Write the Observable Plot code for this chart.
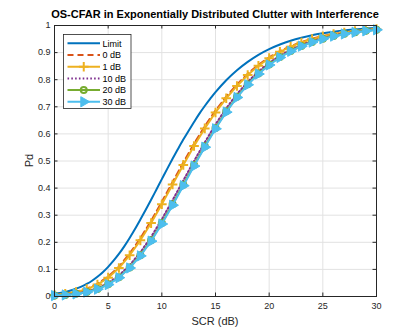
<!DOCTYPE html>
<html>
<head>
<meta charset="utf-8">
<script src="https://cdn.jsdelivr.net/npm/d3@7"></script>
<script src="https://cdn.jsdelivr.net/npm/@observablehq/plot@0.6"></script>
<style>
  html, body { margin: 0; padding: 0; background: #fff; }
  #wrap { position: relative; width: 415px; height: 332px; font-family: "Liberation Sans", Arial, sans-serif; }
  #chart svg { display: block; }
  #overlay { position: absolute; left: 0; top: 0; pointer-events: none; }
</style>
</head>
<body>
<div id="wrap">
  <div id="chart"></div>
  <svg id="overlay" width="415" height="332"></svg>
</div>
<script>
// ---------------- data ----------------
const titleText = "OS-CFAR in Exponentially Distributed Clutter with Interference";
const xLabel = "SCR (dB)";
const yLabel = "Pd";

const xTicks = [0, 5, 10, 15, 20, 25, 30];
const xTickLabels = ["0", "5", "10", "15", "20", "25", "30"];
const yTicks = [0, 0.1, 0.2, 0.3, 0.4, 0.5, 0.6, 0.7, 0.8, 0.9, 1];
const yTickLabels = ["0", "0.1", "0.2", "0.3", "0.4", "0.5", "0.6", "0.7", "0.8", "0.9", "1"];

const seriesNames = ["Limit", "0 dB", "1 dB", "10 dB", "20 dB", "30 dB"];

// Limit curve (SCR in dB, Pd)
const limitScr = [0, 0.5, 1, 1.5, 2, 2.5, 3, 3.5, 4, 4.5, 5, 5.5, 6, 6.5, 7, 7.5, 8, 8.5, 9, 9.5,
  10, 10.5, 11, 11.5, 12, 12.5, 13, 13.5, 14, 14.5, 15, 16, 17, 18, 19, 20, 21, 22, 23, 24, 25, 26, 27, 28, 29, 30];
const limitPd = [0.0100, 0.0130, 0.0170, 0.0220, 0.0284, 0.0363, 0.0462, 0.0582, 0.0726, 0.0896,
  0.1094, 0.132, 0.157, 0.185, 0.216, 0.249, 0.284, 0.320, 0.357, 0.395,
  0.433, 0.471, 0.508, 0.544, 0.579, 0.612, 0.644, 0.675, 0.703, 0.729,
  0.754, 0.798, 0.835, 0.866, 0.892, 0.913, 0.930, 0.944, 0.955, 0.964, 0.971, 0.977, 0.982, 0.9855, 0.9885, 0.9908];

// OS-CFAR curves, one point per dB
const scr = [0, 1, 2, 3, 4, 5, 6, 7, 8, 9, 10, 11, 12, 13, 14, 15, 16, 17, 18, 19, 20, 21, 22, 23, 24, 25, 26, 27, 28, 29, 30];
const pd0 = [0.0060, 0.0101, 0.0171, 0.0286, 0.0466, 0.0731, 0.1101, 0.1584, 0.2148, 0.2793,
  0.3496, 0.4222, 0.4945, 0.5638, 0.6280, 0.6861, 0.7375, 0.7822, 0.8219, 0.8550,
  0.8827, 0.9054, 0.9240, 0.9390, 0.9511, 0.9610, 0.9689, 0.9751, 0.9802, 0.9842, 0.9875];
const pd1 = [0.0056, 0.0095, 0.0161, 0.0270, 0.0441, 0.0695, 0.1052, 0.1521, 0.2073, 0.2709,
  0.3406, 0.4131, 0.4856, 0.5553, 0.6202, 0.6791, 0.7314, 0.7769, 0.8174, 0.8513,
  0.8796, 0.9029, 0.9219, 0.9373, 0.9498, 0.9599, 0.9680, 0.9744, 0.9796, 0.9838, 0.9871];
const pd10 = [0.0038, 0.0063, 0.0108, 0.0182, 0.0304, 0.0493, 0.0771, 0.1155, 0.1629, 0.2198,
  0.2849, 0.3554, 0.4280, 0.5000, 0.5687, 0.6351, 0.6948, 0.7470, 0.7920, 0.8301,
  0.8620, 0.8884, 0.9100, 0.9278, 0.9421, 0.9536, 0.9630, 0.9705, 0.9764, 0.9812, 0.9850];
const pd20 = [0.0034, 0.0058, 0.0097, 0.0165, 0.0276, 0.0451, 0.0710, 0.1073, 0.1525, 0.2074,
  0.2710, 0.3405, 0.4128, 0.4850, 0.5545, 0.6221, 0.6832, 0.7369, 0.7834, 0.8228,
  0.8559, 0.8834, 0.9059, 0.9244, 0.9394, 0.9514, 0.9612, 0.9691, 0.9753, 0.9803, 0.9843];
const pd30 = [0.0034, 0.0056, 0.0095, 0.0161, 0.0270, 0.0441, 0.0695, 0.1052, 0.1499, 0.2043,
  0.2675, 0.3368, 0.4090, 0.4813, 0.5510, 0.6189, 0.6803, 0.7344, 0.7812, 0.8210,
  0.8544, 0.8821, 0.9049, 0.9236, 0.9387, 0.9509, 0.9608, 0.9687, 0.9750, 0.9801, 0.9841];

// ---------------- styles ----------------
const C = {
  blue: "#0072BD", orange: "#D95319", yellow: "#EDB120",
  purple: "#7E2F8E", green: "#77AC30", cyan: "#4DBEEE",
  axis: "#262626", grid: "#e2e2e2"
};
const W = 415, H = 332;
const M = { left: 54, right: 39, top: 25, bottom: 36 };
const plotW = W - M.left - M.right;
const plotH = H - M.top - M.bottom;
const tickLen = 3.5;
const LW = 2;

const chart = Plot.plot({
  width: W,
  height: H,
  marginLeft: M.left,
  marginRight: M.right,
  marginTop: M.top,
  marginBottom: M.bottom,
  style: { fontFamily: "'Liberation Sans', Arial, sans-serif", fontSize: "9px", color: C.axis, background: "#fff" },
  x: { domain: [0, 30] },
  y: { domain: [0, 1] },
  marks: [
    Plot.gridX(xTicks, { stroke: C.grid, strokeOpacity: 1, strokeWidth: 1 }),
    Plot.gridY(yTicks, { stroke: C.grid, strokeOpacity: 1, strokeWidth: 1 }),
    // Limit
    Plot.line(limitScr, { x: limitScr, y: limitPd, stroke: C.blue, strokeWidth: LW, curve: "catmull-rom" }),
    // 0 dB
    Plot.line(scr, { x: scr, y: pd0, stroke: C.orange, strokeWidth: LW, strokeDasharray: "6,4" }),
    // 1 dB
    Plot.line(scr, { x: scr, y: pd1, stroke: C.yellow, strokeWidth: LW }),
    Plot.dot(scr, { x: scr, y: pd1, symbol: "plus", r: 3.2, stroke: C.yellow, strokeWidth: LW, fill: "none" }),
    // 10 dB
    Plot.line(scr, { x: scr, y: pd10, stroke: C.purple, strokeWidth: LW, strokeDasharray: "1.6,2.2" }),
    // 20 dB
    Plot.line(scr, { x: scr, y: pd20, stroke: C.green, strokeWidth: LW }),
    Plot.dot(scr, { x: scr, y: pd20, symbol: "circle", r: 3, stroke: C.green, strokeWidth: LW, fill: "none" }),
    // 30 dB
    Plot.line(scr, { x: scr, y: pd30, stroke: C.cyan, strokeWidth: LW }),
    Plot.dot(scr, { x: scr, y: pd30, symbol: "triangle", rotate: 90, r: 3.8, stroke: C.cyan, strokeWidth: 1, fill: C.cyan }),
    // box
    Plot.frame({ stroke: C.axis, strokeWidth: 1 }),
    // inward ticks on all four sides
    Plot.tickX(xTicks, { x: d => d, stroke: C.axis, insetTop: plotH - tickLen }),
    Plot.tickX(xTicks, { x: d => d, stroke: C.axis, insetBottom: plotH - tickLen }),
    Plot.tickY(yTicks, { y: d => d, stroke: C.axis, insetRight: plotW - tickLen }),
    Plot.tickY(yTicks, { y: d => d, stroke: C.axis, insetLeft: plotW - tickLen }),
    Plot.axisX(xTicks, { tickSize: 0, tickPadding: 6, label: null, fill: C.axis,
      tickFormat: d => xTickLabels[xTicks.indexOf(d)] }),
    Plot.axisY(yTicks, { tickSize: 0, tickPadding: 4, label: null, fill: C.axis,
      tickFormat: d => yTickLabels[yTicks.indexOf(d)] })
  ]
});
document.getElementById("chart").appendChild(chart);

// ---------------- overlay: title, axis labels, legend ----------------
const ov = d3.select("#overlay");
const font = "'Liberation Sans', Arial, sans-serif";
const cx = M.left + plotW / 2;

ov.append("text").attr("x", cx).attr("y", 18)
  .attr("text-anchor", "middle").attr("font-family", font)
  .attr("font-size", 11).attr("font-weight", "bold").attr("fill", "#000")
  .text(titleText);

ov.append("text").attr("x", cx).attr("y", 325)
  .attr("text-anchor", "middle").attr("font-family", font)
  .attr("font-size", 11).attr("fill", C.axis).text(xLabel);

ov.append("text").attr("transform", `translate(32.5,${M.top + plotH / 2}) rotate(-90)`)
  .attr("text-anchor", "middle").attr("font-family", font)
  .attr("font-size", 11).attr("fill", C.axis).text(yLabel);

// legend
const lg = { x: 63.5, y: 34.5, w: 67.5, h: 74, row0: 43.3, dy: 11.7, lx1: 67.5, lx2: 100, tx: 102.5 };
const legendStyles = [
  { stroke: C.blue },
  { stroke: C.orange, dash: "6,4" },
  { stroke: C.yellow, symbol: d3.symbolPlus, r: 3.2, fill: "none", sw: LW },
  { stroke: C.purple, dash: "1.6,2.2" },
  { stroke: C.green, symbol: d3.symbolCircle, r: 3, fill: "none", sw: LW },
  { stroke: C.cyan, symbol: d3.symbolTriangle, r: 3.8, fill: C.cyan, sw: 1, rotate: 90 }
];
ov.append("rect").attr("x", lg.x).attr("y", lg.y).attr("width", lg.w).attr("height", lg.h)
  .attr("fill", "#fff").attr("stroke", C.axis).attr("stroke-width", 0.8);
seriesNames.forEach((name, i) => {
  const s = legendStyles[i];
  const y = lg.row0 + i * lg.dy;
  ov.append("line").attr("x1", lg.lx1).attr("x2", lg.lx2).attr("y1", y).attr("y2", y)
    .attr("stroke", s.stroke).attr("stroke-width", LW)
    .attr("stroke-dasharray", s.dash || null);
  if (s.symbol) {
    const mx = (lg.lx1 + lg.lx2) / 2;
    ov.append("path")
      .attr("d", d3.symbol(s.symbol, Math.PI * s.r * s.r)())
      .attr("transform", `translate(${mx},${y})` + (s.rotate ? ` rotate(${s.rotate})` : ""))
      .attr("fill", s.fill).attr("stroke", s.stroke).attr("stroke-width", s.sw);
  }
  ov.append("text").attr("x", lg.tx).attr("y", y + 3.2)
    .attr("font-family", font).attr("font-size", 9).attr("fill", "#000").text(name);
});
</script>
</body>
</html>
